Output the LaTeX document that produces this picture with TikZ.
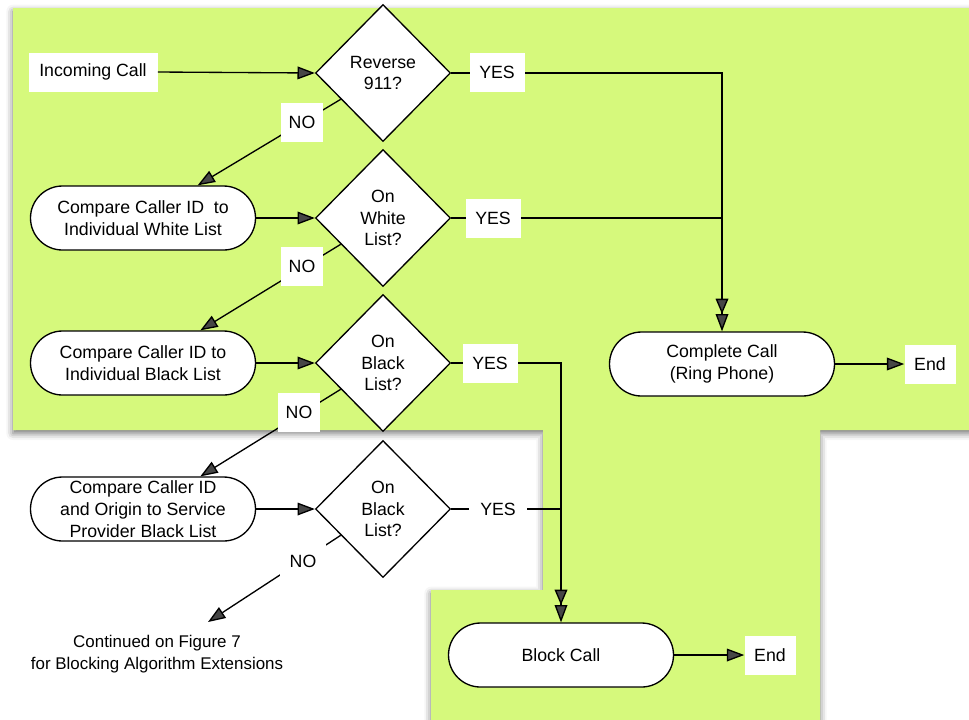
\documentclass[tikz,border=0pt]{standalone}
\usepackage{fontspec}
\setmainfont{Liberation Sans}
\usetikzlibrary{shapes.geometric,arrows.meta,calc,shadows.blur}
\definecolor{bggreen}{RGB}{214,249,124}
\begin{document}
\begin{tikzpicture}[x=0.75pt,y=-0.75pt,
  font=\fontsize{13.3}{16.3}\selectfont,
  dia/.style={diamond,draw,fill=white,line width=1pt,minimum width=101.25pt,minimum height=102.75pt,inner sep=0pt,align=center},
  term/.style={rectangle,rounded corners=24pt,draw,fill=white,line width=1pt,minimum width=168.75pt,minimum height=48pt,inner sep=0pt,align=center},
  lbl/.style={fill=white,inner sep=0pt,minimum height=29.25pt,align=center},
  conn/.style={line width=1pt},
  arr/.style={conn,-{Triangle[length=13pt,width=9.5pt]}},
  darr/.style={conn,-{Triangle[length=11.5pt,width=9.5pt]Triangle[length=13pt,width=9.5pt]}}]
\useasboundingbox (0,0) rectangle (969,719);
% green background
\fill[bggreen, blur shadow={shadow xshift=0pt,shadow yshift=-2.5pt,shadow blur radius=5pt,shadow opacity=55}]
  (13,8) -- (990,8) -- (990,430) -- (820,430) -- (820,740) -- (431,740) -- (431,590) -- (543,590) -- (543,430) -- (13,430) -- cycle;
% nodes
\node[lbl,minimum width=96.75pt] (inc) at (93,72) {Incoming Call};
\node[dia] (d1) at (383,73) {Reverse\\911?};
\node[dia] (d2) at (383,218) {On\\White\\List?};
\node[dia] (d3) at (383,363) {On\\Black\\List?};
\node[dia] (d4) at (383,509) {On\\Black\\List?};
\node[term] (c1) at (143,218) {Compare Caller ID\ \ to\\Individual White List};
\node[term] (c2) at (143,363) {Compare Caller ID to\\Individual Black List};
\node[term] (c3) at (143,509) {Compare Caller ID\\and Origin to Service\\Provider Black List};
\node[term] (cc) at (722,364) {Complete Call\\(Ring Phone)};
\node[term] (bc) at (561,655) {Block Call};
\node[lbl,minimum width=38.25pt] (end1) at (930,364) {End};
\node[lbl,minimum width=38.25pt] (end2) at (770,655) {End};
\node[align=center,font=\fontsize{12.7}{16.3}\selectfont] (cont) at (157,654) {Continued on Figure 7\\for Blocking Algorithm Extensions};
\coordinate (noend) at (208,622);
% connectors
\draw[arr] (inc.east) -- (d1.west);
\draw[arr] (c1.east) -- (d2.west);
\draw[arr] (c2.east) -- (d3.west);
\draw[arr] (c3.east) -- (d4.west);
\draw[darr] (d1.east) -| (cc.north);
\draw[conn] (d2.east) -- (d2.east -| cc.north);
\draw[darr] (d3.east) -| (bc.north);
\draw[conn] (d4.east) -- (d4.east -| bc.north);
\draw[arr] (cc.east) -- (end1.west);
\draw[arr] (bc.east) -- (end2.west);
\draw[arr] ($(d1.west)!0.38!(d1.south)$) -- ([xshift=41pt]c1.north);
\draw[arr] ($(d2.west)!0.38!(d2.south)$) -- ([xshift=43pt]c2.north);
\draw[arr] ($(d3.west)!0.38!(d3.south)$) -- ([xshift=43pt]c3.north);
\draw[arr] ($(d4.west)!0.38!(d4.south)$) -- (noend);
% labels on connectors
\node[lbl,minimum width=41.25pt] (y1) at (497,72) {YES};
\node[lbl,minimum width=41.25pt] (y2) at (493,218) {YES};
\node[lbl,minimum width=41.25pt] (y3) at (490,363) {YES};
\node[lbl,minimum width=43.5pt] (y4) at (498,509) {YES};
\node[lbl,minimum width=32pt] (n1) at (302,122) {NO};
\node[lbl,minimum width=32pt] (n2) at (302,266) {NO};
\node[lbl,minimum width=32pt] (n3) at (299,412) {NO};
\node[lbl,minimum width=34pt,minimum height=27pt] (n4) at (303,561) {NO};
\end{tikzpicture}
\end{document}
